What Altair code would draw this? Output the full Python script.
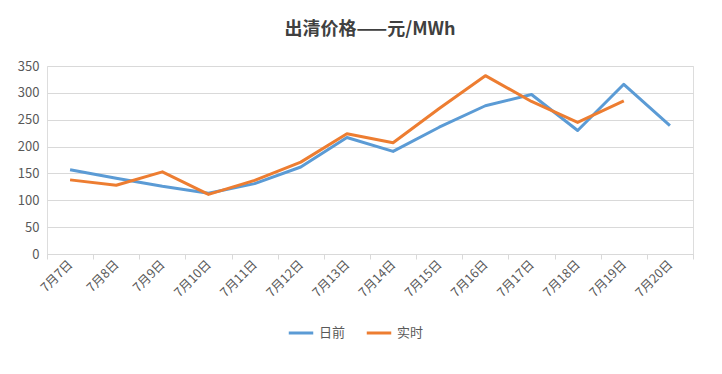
import altair as alt
import pandas as pd

dates = ["7月7日", "7月8日", "7月9日", "7月10日", "7月11日", "7月12日", "7月13日",
         "7月14日", "7月15日", "7月16日", "7月17日", "7月18日", "7月19日", "7月20日"]
day_ahead = [157, 141, 126, 113, 131, 162, 217, 191, 236, 276, 297, 230, 316, 239]
real_time = [138, 128, 153, 111, 137, 171, 224, 207, 271, 332, 284, 245, 285]

series_names = ["日前", "实时"]
colors = ["#5B9BD5", "#ED7D31"]

rows = []
for d, v in zip(dates, day_ahead):
    rows.append({"date": d, "value": v, "series": series_names[0]})
for d, v in zip(dates, real_time):
    rows.append({"date": d, "value": v, "series": series_names[1]})
df = pd.DataFrame(rows)

font = "Noto Sans CJK SC"

chart = alt.Chart(df).mark_line(strokeWidth=3, strokeJoin="round").encode(
    x=alt.X("date:N", sort=dates, bandPosition=0.5,
            scale=alt.Scale(type="band", paddingInner=0, paddingOuter=0),
            axis=alt.Axis(title=None, labelAngle=-45, labelAlign="right", labelBaseline="middle",
                          tickBand="extent", domainColor="#d9d9d9", tickColor="#d9d9d9",
                          tickSize=5, labelPadding=3, labelColor="#595959", labelFontSize=12.5,
                          labelFont=font, grid=False)),
    y=alt.Y("value:Q", scale=alt.Scale(domain=[0, 350], nice=False),
            axis=alt.Axis(title=None, values=[0, 50, 100, 150, 200, 250, 300, 350],
                          domain=False, ticks=False, labelPadding=8, labelColor="#595959",
                          labelFontSize=13, labelFont=font, gridColor="#d9d9d9")),
    color=alt.Color("series:N", sort=series_names,
                    scale=alt.Scale(domain=series_names, range=colors),
                    legend=alt.Legend(title=None, orient="none", direction="horizontal",
                                      legendX=240, legendY=253,
                                      symbolType="stroke", symbolStrokeWidth=3, symbolSize=600,
                                      labelFont=font, labelFontSize=13, labelColor="#595959",
                                      columnPadding=14)),
    detail="series:N",
).properties(
    width=646,
    height=188,
    padding={"left": 9, "top": 13, "right": 10, "bottom": 5},
    title=alt.TitleParams("出清价格——元/MWh", fontSize=18, font=font, fontWeight="bold",
                          color="#404040", offset=21, anchor="middle"),
).configure_view(stroke=None).configure(background="white")

chart.save("out.html", embed_options={"renderer": "svg", "actions": False})
